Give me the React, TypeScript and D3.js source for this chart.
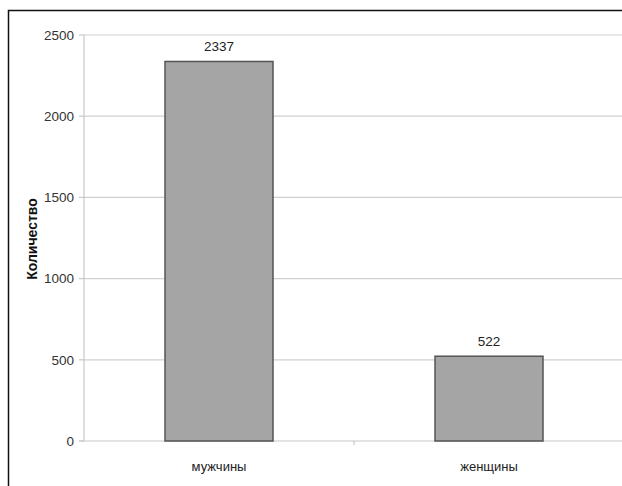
import React from "react";
import * as d3 from "d3";

const categories = ["мужчины", "женщины"];
const values = [2337, 522];
const yTicks = [0, 500, 1000, 1500, 2000, 2500];
const yLabel = "Количество";

const W = 622;
const H = 486;
const plot = { left: 84, right: 624, top: 35, bottom: 441 };

export default function App() {
  const x = d3
    .scaleBand<string>()
    .domain(categories)
    .range([plot.left, plot.right])
    .paddingInner(0.6)
    .paddingOuter(0.3);
  const y = d3.scaleLinear().domain([0, 2500]).range([plot.bottom, plot.top]);
  const step = x.step();
  const font = "'Liberation Sans', Arial, sans-serif";

  return (
    <>
      <style>{"html,body{margin:0;padding:0;overflow:hidden;background:#fff;}"}</style>
      <svg
        width={W}
        height={H}
        viewBox={`0 0 ${W} ${H}`}
        style={{ position: "fixed", left: 0, top: 0, display: "block", background: "#fff" }}
        fontFamily={font}
      >
        <rect x={0} y={0} width={W} height={H} fill="#fff" />
        <path d={`M8.5,${H + 5}V10.5H${W + 5}`} fill="none" stroke="#111" strokeWidth={1.5} />
        {yTicks.map((t) => (
          <g key={t}>
            {t > 0 && (
              <line x1={plot.left} x2={W + 5} y1={y(t)} y2={y(t)} stroke="#d0d0d0" strokeWidth={1.2} />
            )}
            <line x1={plot.left - 5} x2={plot.left} y1={y(t)} y2={y(t)} stroke="#c8c8c8" strokeWidth={1.2} />
            <text x={plot.left - 10} y={y(t)} dy="0.35em" textAnchor="end" fontSize={13.5} fill="#333">
              {t}
            </text>
          </g>
        ))}
        <line x1={plot.left} x2={plot.left} y1={plot.top} y2={plot.bottom} stroke="#c8c8c8" strokeWidth={1.2} />
        <line x1={plot.left - 5} x2={W + 5} y1={plot.bottom} y2={plot.bottom} stroke="#c8c8c8" strokeWidth={1.2} />
        {categories.slice(1).map((c) => (
          <line
            key={c}
            x1={(x(c) as number) + x.bandwidth() / 2 - step / 2}
            x2={(x(c) as number) + x.bandwidth() / 2 - step / 2}
            y1={plot.bottom}
            y2={plot.bottom + 4}
            stroke="#c8c8c8"
            strokeWidth={1.2}
          />
        ))}
        {categories.map((c, i) => (
          <g key={c}>
            <rect
              x={x(c)}
              y={y(values[i])}
              width={x.bandwidth()}
              height={plot.bottom - y(values[i])}
              fill="#a5a5a5"
              stroke="#555"
              strokeWidth={1.5}
            />
            <text
              x={(x(c) as number) + x.bandwidth() / 2}
              y={y(values[i]) - 10}
              textAnchor="middle"
              fontSize={13.5}
              fill="#222"
            >
              {values[i]}
            </text>
            <text
              x={(x(c) as number) + x.bandwidth() / 2}
              y={plot.bottom + 30}
              textAnchor="middle"
              fontSize={13}
              fill="#222"
            >
              {c}
            </text>
          </g>
        ))}
        <text
          transform={`translate(37, ${239}) rotate(-90)`}
          textAnchor="middle"
          fontSize={14}
          fontWeight="bold"
          fill="#111"
        >
          {yLabel}
        </text>
      </svg>
    </>
  );
}
